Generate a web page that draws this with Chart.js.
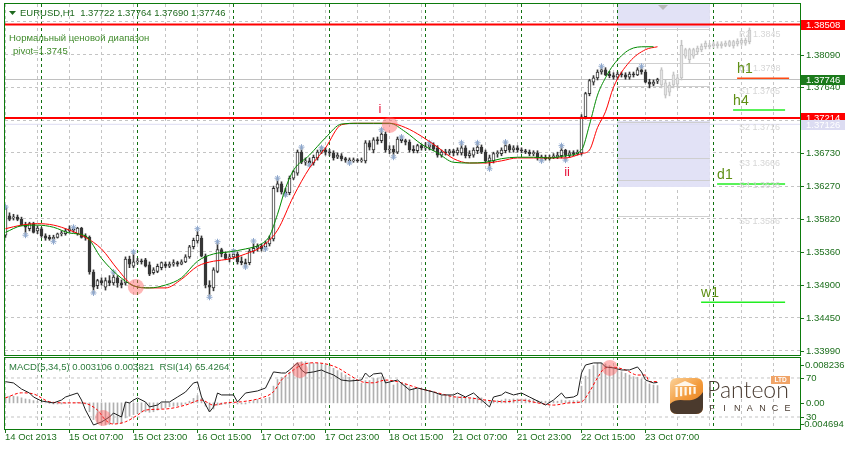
<!DOCTYPE html>
<html>
<head>
<meta charset="utf-8">
<title>EURUSD H1</title>
<script src="https://cdn.jsdelivr.net/npm/chart.js@4.4.0/dist/chart.umd.min.js"></script>
<style>
  body { margin: 0; background: #fff; }
  #wrap { position: relative; width: 845px; height: 449px; overflow: hidden; background: #fff; }
  canvas { position: absolute; left: 0; }
</style>
</head>
<body>
<div id="wrap">
  <canvas id="main" width="845" height="356" style="top:0"></canvas>
  <canvas id="sub" width="845" height="93" style="top:356px"></canvas>
</div>
<script>
// EURUSD H1, 14 Oct 15:00 .. 23 Oct 10:00 (bar index 0..163)
const openP = [
  1.3559,1.3586,1.3583,1.3584,1.3581,1.3573,1.3568,1.3575,1.3565,1.3568,
  1.3558,1.3556,1.3554,1.3556,1.3561,1.3561,1.3565,1.3568,1.3561,1.3569,
  1.3558,1.3556,1.3508,1.3489,1.3496,1.3487,1.3496,1.3493,1.3500,1.3493,
  1.3493,1.3526,1.3516,1.3522,1.3523,1.3525,1.3518,1.3507,1.3509,1.3514,
  1.3519,1.3516,1.3519,1.3521,1.3519,1.3522,1.3529,1.3543,1.3551,1.3555,
  1.3530,1.3490,1.3486,1.3509,1.3539,1.3533,1.3527,1.3529,1.3533,1.3523,
  1.3521,1.3521,1.3537,1.3541,1.3544,1.3543,1.3547,1.3554,1.3624,1.3630,
  1.3619,1.3618,1.3638,1.3645,1.3674,1.3660,1.3662,1.3659,1.3666,1.3674,
  1.3677,1.3674,1.3673,1.3667,1.3669,1.3665,1.3663,1.3662,1.3663,1.3662,
  1.3662,1.3687,1.3677,1.3691,1.3690,1.3699,1.3677,1.3678,1.3674,1.3692,
  1.3690,1.3688,1.3678,1.3676,1.3683,1.3680,1.3681,1.3684,1.3680,1.3670,
  1.3674,1.3673,1.3676,1.3673,1.3673,1.3680,1.3669,1.3670,1.3676,1.3681,
  1.3674,1.3662,1.3662,1.3672,1.3672,1.3676,1.3683,1.3677,1.3680,1.3677,
  1.3676,1.3674,1.3672,1.3673,1.3666,1.3667,1.3665,1.3667,1.3667,1.3669,
  1.3677,1.3670,1.3673,1.3672,1.3673,1.3723,1.3755,1.3771,1.3777,1.3785,
  1.3788,1.3782,1.3780,1.3778,1.3782,1.3781,1.3778,1.3782,1.3781,1.3788,
  1.3785,1.3771,1.3768,1.37722
];
const highP = [
  1.3600,1.3590,1.3588,1.3587,1.3584,1.3577,1.3577,1.3577,1.3572,1.3570,
  1.3561,1.3559,1.3559,1.3562,1.3565,1.3568,1.3572,1.3569,1.3570,1.3570,
  1.3561,1.3558,1.3511,1.3498,1.3500,1.3500,1.3503,1.3507,1.3503,1.3497,
  1.3529,1.3530,1.3534,1.3527,1.3526,1.3527,1.3522,1.3514,1.3519,1.3522,
  1.3522,1.3522,1.3525,1.3523,1.3525,1.3532,1.3545,1.3555,1.3565,1.3558,
  1.3533,1.3496,1.3514,1.3548,1.3541,1.3536,1.3533,1.3539,1.3536,1.3529,
  1.3526,1.3540,1.3548,1.3547,1.3547,1.3551,1.3558,1.3627,1.3637,1.3633,
  1.3624,1.3641,1.3649,1.3677,1.3680,1.3666,1.3666,1.3670,1.3677,1.3681,
  1.3680,1.3678,1.3676,1.3673,1.3672,1.3667,1.3666,1.3666,1.3665,1.3666,
  1.3690,1.3690,1.3694,1.3695,1.3703,1.3702,1.3683,1.3683,1.3695,1.3696,
  1.3692,1.3691,1.3683,1.3685,1.3685,1.3687,1.3688,1.3687,1.3683,1.3677,
  1.3678,1.3678,1.3678,1.3680,1.3685,1.3683,1.3676,1.3680,1.3687,1.3684,
  1.3677,1.3670,1.3674,1.3676,1.3680,1.3688,1.3685,1.3683,1.3683,1.3680,
  1.3678,1.3677,1.3676,1.3676,1.3670,1.3670,1.3670,1.3672,1.3674,1.3683,
  1.3678,1.3676,1.3676,1.3677,1.3726,1.3757,1.3775,1.3780,1.3788,1.3792,
  1.3791,1.3786,1.3784,1.3785,1.3785,1.3784,1.3785,1.3785,1.3791,1.3792,
  1.3788,1.3775,1.3774,1.37764
];
const lowP = [
  1.3556,1.3579,1.3580,1.3579,1.3572,1.3561,1.3565,1.3562,1.3561,1.3556,
  1.3552,1.3552,1.3551,1.3555,1.3558,1.3559,1.3563,1.3563,1.3559,1.3555,
  1.3552,1.3505,1.3479,1.3485,1.3490,1.3483,1.3489,1.3490,1.3487,1.3486,
  1.3490,1.3514,1.3514,1.3519,1.3519,1.3515,1.3503,1.3505,1.3507,1.3511,
  1.3514,1.3514,1.3516,1.3516,1.3518,1.3521,1.3527,1.3540,1.3548,1.3529,
  1.3486,1.3475,1.3482,1.3507,1.3529,1.3525,1.3522,1.3526,1.3519,1.3518,
  1.3515,1.3518,1.3534,1.3537,1.3537,1.3539,1.3544,1.3551,1.3619,1.3616,
  1.3613,1.3615,1.3636,1.3642,1.3658,1.3656,1.3655,1.3656,1.3663,1.3672,
  1.3670,1.3669,1.3663,1.3665,1.3662,1.3660,1.3659,1.3660,1.3660,1.3660,
  1.3659,1.3677,1.3673,1.3685,1.3687,1.3674,1.3672,1.3669,1.3672,1.3687,
  1.3684,1.3674,1.3673,1.3673,1.3677,1.3677,1.3677,1.3676,1.3667,1.3667,
  1.3670,1.3670,1.3669,1.3670,1.3670,1.3666,1.3666,1.3667,1.3672,1.3672,
  1.3659,1.3652,1.3659,1.3667,1.3669,1.3673,1.3674,1.3674,1.3674,1.3673,
  1.3672,1.3669,1.3669,1.3663,1.3662,1.3663,1.3663,1.3665,1.3665,1.3666,
  1.3663,1.3667,1.3669,1.3670,1.3670,1.3720,1.3752,1.3767,1.3774,1.3782,
  1.3780,1.3777,1.3775,1.3775,1.3778,1.3775,1.3775,1.3778,1.3780,1.3782,
  1.3770,1.3763,1.3766,1.37690
];
const closeP = [
  1.3597,1.3581,1.3584,1.3581,1.3573,1.3570,1.3575,1.3563,1.3569,1.3558,
  1.3555,1.3554,1.3556,1.3561,1.3562,1.3565,1.3568,1.3566,1.3569,1.3556,
  1.3556,1.3508,1.3487,1.3496,1.3493,1.3496,1.3493,1.3501,1.3493,1.3490,
  1.3526,1.3519,1.3522,1.3523,1.3522,1.3516,1.3505,1.3511,1.3516,1.3521,
  1.3516,1.3519,1.3521,1.3519,1.3522,1.3529,1.3543,1.3552,1.3559,1.3530,
  1.3490,1.3487,1.3511,1.3539,1.3533,1.3527,1.3529,1.3533,1.3522,1.3521,
  1.3519,1.3537,1.3541,1.3544,1.3540,1.3548,1.3554,1.3624,1.3630,1.3619,
  1.3616,1.3638,1.3647,1.3674,1.3660,1.3662,1.3659,1.3667,1.3674,1.3677,
  1.3674,1.3673,1.3666,1.3670,1.3665,1.3663,1.3662,1.3663,1.3662,1.3663,
  1.3687,1.3681,1.3691,1.3690,1.3699,1.3677,1.3678,1.3674,1.3692,1.3690,
  1.3688,1.3677,1.3676,1.3683,1.3680,1.3681,1.3684,1.3678,1.3670,1.3674,
  1.3673,1.3676,1.3673,1.3677,1.3680,1.3669,1.3672,1.3677,1.3681,1.3674,
  1.3662,1.3666,1.3672,1.3673,1.3677,1.3683,1.3677,1.3680,1.3677,1.3676,
  1.3674,1.3672,1.3673,1.3666,1.3667,1.3665,1.3667,1.3669,1.3670,1.3677,
  1.3670,1.3673,1.3672,1.3674,1.3723,1.3755,1.3773,1.3777,1.3785,1.3788,
  1.3781,1.3780,1.3778,1.3782,1.3781,1.3778,1.3782,1.3781,1.3788,1.3785,
  1.3771,1.3768,1.3771,1.37746
];

// faded projection candles to the right of the last bar (bars 164..186)
const projTop    = [1.3788,1.3770,1.3767,1.3781,1.3777,1.3822,1.3816,1.3816,1.3816,1.3818,1.3821,1.3825,1.3822,1.3824,1.3824,1.3824,1.3825,1.3827,1.3827,1.3828,1.3829,1.3829,1.3843];
const projBottom = [1.3767,1.3753,1.3757,1.3767,1.3768,1.3777,1.3807,1.3802,1.3807,1.3813,1.3816,1.3820,1.3820,1.3821,1.3821,1.3821,1.3822,1.3822,1.3821,1.3824,1.3825,1.3825,1.3827];
const projHigh   = [1.3791,1.3774,1.3771,1.3785,1.3782,1.3829,1.3818,1.3818,1.3818,1.3821,1.3824,1.3828,1.3825,1.3827,1.3827,1.3827,1.3828,1.3829,1.3829,1.3831,1.3832,1.3832,1.3846];
const projLow    = [1.3763,1.3749,1.3752,1.3763,1.3763,1.3774,1.3804,1.3798,1.3804,1.3809,1.3813,1.3817,1.3817,1.3818,1.3818,1.3818,1.3820,1.3820,1.3818,1.3821,1.3822,1.3822,1.3824];

// two moving averages (green fast, red slow)
const greenBars = [0,4,8,12,16,20,24,28,32,36,40,44,48,52,56,60,64,66,68,70,72,76,80,84,88,92,96,100,104,108,112,116,120,124,128,132,136,140,144,146,148,150,152,156,160,162];
const greenMA = [1.3563,1.3572,1.3573,1.3570,1.3562,1.3558,1.3527,1.3504,1.3489,1.3486,1.3490,1.3500,1.3523,1.3533,1.3536,1.3540,1.3547,1.3558,1.3588,1.3624,1.3649,1.3670,1.3694,1.3713,1.3714,1.3714,1.3714,1.3702,1.3685,1.3673,1.3660,1.3659,1.3660,1.3665,1.3667,1.3667,1.3666,1.3669,1.3677,1.3712,1.3753,1.3777,1.3795,1.3816,1.3820,1.3820];
const redBars = [0,4,8,12,16,20,24,28,32,36,40,44,48,52,56,60,64,68,72,76,80,84,88,92,96,100,104,108,112,116,120,124,128,132,136,140,144,146,148,150,152,156,160,163];
const redMA = [1.3568,1.3573,1.3575,1.3573,1.3566,1.3556,1.3540,1.3512,1.3489,1.3486,1.3486,1.3498,1.3516,1.3523,1.3526,1.3533,1.3543,1.3566,1.3613,1.3652,1.3680,1.3712,1.3714,1.3714,1.3714,1.3708,1.3696,1.3681,1.3665,1.3659,1.3659,1.3662,1.3666,1.3666,1.3666,1.3666,1.3672,1.3677,1.3708,1.3730,1.3764,1.3799,1.3816,1.3820];

// fractal marks
const fractalBars = [0,5,12,17,22,27,32,48,51,53,57,60,62,65,68,70,74,76,79,86,94,97,99,106,114,118,121,125,134,139,140,149,159];
const fractalPrices = [1.3598,1.3559,1.3550,1.3570,1.3479,1.3508,1.3536,1.3568,1.3473,1.3550,1.3537,1.3515,1.3551,1.3540,1.3638,1.3615,1.3681,1.3656,1.3680,1.3659,1.3705,1.3667,1.3695,1.3687,1.3687,1.3687,1.3651,1.3688,1.3662,1.3683,1.3663,1.3793,1.3793];

// MACD(5,34,5) histogram, its signal and RSI(14)
const macdHist = [
  0.0011,0.0012,0.0012,0.0011,0.0009,0.0007,0.0006,0.0004,0.0003,0.0001,
  0.0000,-0.0001,-0.0002,-0.0002,-0.0002,-0.0001,0.0000,0.0000,0.0001,-0.0001,
  -0.0002,-0.0016,-0.0030,-0.0036,-0.0038,-0.0039,-0.0039,-0.0037,-0.0037,-0.0037,
  -0.0027,-0.0024,-0.0021,-0.0019,-0.0017,-0.0016,-0.0017,-0.0016,-0.0013,-0.0010,
  -0.0009,-0.0007,-0.0006,-0.0005,-0.0004,-0.0002,0.0003,0.0008,0.0013,0.0008,
  -0.0006,-0.0014,-0.0011,-0.0004,-0.0003,-0.0002,-0.0002,-0.0001,-0.0002,-0.0002,
  -0.0002,0.0002,0.0004,0.0006,0.0006,0.0008,0.0010,0.0030,0.0042,0.0046,
  0.0048,0.0055,0.0061,0.0072,0.0074,0.0074,0.0072,0.0071,0.0071,0.0070,
  0.0068,0.0066,0.0062,0.0058,0.0054,0.0050,0.0046,0.0042,0.0038,0.0035,
  0.0040,0.0040,0.0044,0.0044,0.0047,0.0040,0.0036,0.0032,0.0035,0.0035,
  0.0034,0.0029,0.0026,0.0025,0.0024,0.0022,0.0021,0.0019,0.0015,0.0013,
  0.0012,0.0012,0.0011,0.0011,0.0012,0.0009,0.0008,0.0009,0.0011,0.0009,
  0.0004,0.0003,0.0004,0.0004,0.0005,0.0007,0.0006,0.0007,0.0007,0.0007,
  0.0007,0.0006,0.0006,0.0004,0.0003,0.0003,0.0003,0.0003,0.0003,0.0005,
  0.0004,0.0004,0.0004,0.0004,0.0030,0.0048,0.0060,0.0067,0.0071,0.0072,
  0.0070,0.0067,0.0064,0.0060,0.0056,0.0053,0.0050,0.0047,0.0046,0.0043,
  0.0038,0.0034,0.0032,0.003106
];
const signalBars = [0,4,7,11,15,19,23,25,27,30,33,35,40,45,49,52,55,59,64,67,69,72,74,77,80,83,86,89,92,95,99,103,108,112,116,120,125,129,133,137,141,144,146,148,150,152,155,158,160,161,163];
const signalVals = [0.0009,0.0018,0.0016,0.0002,0.0000,0.0000,-0.0013,-0.0031,-0.0038,-0.0034,-0.0022,-0.0013,-0.0011,-0.0004,0.0005,-0.0004,0.0000,0.0002,0.0009,0.0020,0.0041,0.0059,0.0068,0.0072,0.0070,0.0063,0.0050,0.0038,0.0036,0.0041,0.0036,0.0027,0.0018,0.0011,0.0009,0.0005,0.0002,0.0005,0.0000,-0.0004,0.0000,0.0002,0.0020,0.0045,0.0063,0.0064,0.0059,0.0050,0.0050,0.0038,0.003821];
const rsiBars = [0,2,4,6,7,9,12,14,15,18,19,20,22,24,26,27,29,30,31,32,33,35,36,38,39,41,43,45,47,48,49,51,52,53,54,57,58,60,63,65,67,69,70,71,73,74,75,77,79,80,82,84,86,89,90,91,92,94,95,96,98,101,103,105,107,109,112,113,115,117,119,121,122,124,125,127,129,131,134,135,137,139,140,142,143,144,145,147,149,150,152,154,156,158,159,160,162,163];
const rsiVals = [66.2,64.9,58.7,54.6,50.5,46.4,44.4,47.4,50.5,54.6,47.4,37.2,21.8,24.9,30.0,34.1,30.0,45.4,44.4,47.4,49.5,45.4,40.3,42.3,45.4,45.4,50.5,55.6,64.9,65.9,50.5,35.1,40.3,54.6,52.6,52.6,45.4,54.6,56.7,59.7,76.2,75.1,75.1,78.2,85.4,78.2,75.1,76.2,78.2,76.2,73.1,67.9,66.9,67.9,75.1,71.0,74.1,75.1,64.9,65.9,67.9,57.7,59.7,57.7,55.6,52.6,52.6,54.6,50.5,54.6,47.4,40.3,50.5,52.6,55.6,52.6,54.6,50.5,44.4,42.3,47.4,54.6,49.5,50.5,52.6,75.1,83.3,85.4,85.4,81.3,80.3,78.2,78.2,81.3,76.2,67.9,64.9,65.4264];

// levels and labels
const priceTicks = [1.33990,1.34450,1.34900,1.35360,1.35820,1.36270,1.36730,1.37180,1.37640,1.38090,1.38550];
const hiddenTicks = [1.37180, 1.38550];
const redLevels = [1.38508, 1.37214];
const bidPrice = 1.37746;
const dayRangePrice = 1.37126;
const tfNames = ['h1','h4','d1','w1'];
const tfLevels = [1.37763, 1.37324, 1.36299, 1.34660];
const tfFrom = [182.9, 181.9, 177.9, 173.9];
const tfTo = [195.9, 194.9, 194.9, 194.9];
const pivotNames = ['R2 1.3845','R1 1.3798','S1 1.3765','S2 1.3716','S3 1.3666','S4 1.3636','S5 1.3586'];
const pivotLevels = [1.3845, 1.3798, 1.3765, 1.3716, 1.3666, 1.3636, 1.3586];
const rangeBoxes = [[1.38792, 1.38460], [1.37172, 1.36258]];
const xLabels = ['14 Oct 2013','15 Oct 07:00','15 Oct 23:00','16 Oct 15:00','17 Oct 07:00','17 Oct 23:00','18 Oct 15:00','21 Oct 07:00','21 Oct 23:00','22 Oct 15:00','23 Oct 07:00'];
const xLabelBars = [0,16,32,48,64,80,96,112,128,144,160];
const dayStartBars = [9,33,57,81,105,129,153,177];
const markBars = [32.6, 96.1];
const markPrices = [1.34873, 1.37117];
const subMarkBars = [24.4, 73.6, 151.1];
const subMarkRsi = [29.0, 78.2, 80.3];

// ---- chart setup ----
const X_MIN = -0.125, X_MAX = 198.625;
const P_MIN = 1.33931, P_MAX = 1.38792;
const M_MIN = -0.004694, M_MAX = 0.008236;
const R_MIN = 17.7, R_MAX = 91.5;
const FONT = '"Liberation Sans", Arial, sans-serif';
const AXIS_GREEN = '#1d6f1d';
const CANDLE = '#363636';
const gridBars = [];
for (let b = 0; b <= 192; b += 8) gridBars.push(b);

const bars = closeP.map((_, i) => i);
const projBars = projTop.map((_, k) => closeP.length + k);
const hline = v => [{x: X_MIN, y: v}, {x: X_MAX, y: v}];
const pts = (xs, ys) => xs.map((x, k) => ({x: x, y: ys[k]}));

function xScale() {
  return {
    type: 'linear', min: X_MIN, max: X_MAX, offset: false,
    afterBuildTicks: s => { s.ticks = gridBars.map(v => ({value: v})); },
    afterFit: s => { s.height = 0; },
    ticks: {display: false},
    grid: {color: '#c4c4c4', drawTicks: false, offset: false},
    border: {display: false, dash: [3, 3]}
  };
}

function dayLines(chart) {
  const {ctx, chartArea: a, scales: {x}} = chart;
  ctx.save();
  ctx.strokeStyle = '#107010';
  ctx.lineWidth = 1;
  ctx.setLineDash([3, 3]);
  dayStartBars.forEach(b => {
    const px = Math.round(x.getPixelForValue(b) - 0.5) + 0.5;
    ctx.beginPath(); ctx.moveTo(px, a.top); ctx.lineTo(px, a.bottom); ctx.stroke();
  });
  ctx.restore();
}

function frame(chart, topShift) {
  const {ctx, chartArea: a} = chart;
  ctx.save();
  ctx.strokeStyle = '#0c7a0c';
  ctx.lineWidth = 1;
  const t = a.top - 0.5 + topShift;
  ctx.strokeRect(a.left - 0.5, t, a.right - a.left + 1, a.bottom + 0.5 - t);
  ctx.restore();
}

function text(ctx, s, x, y, color, font, align, base) {
  ctx.font = font;
  ctx.fillStyle = color;
  ctx.textAlign = align || 'left';
  ctx.textBaseline = base || 'middle';
  ctx.fillText(s, x, y);
}

function labelBox(ctx, py, s, bg, fg) {
  ctx.fillStyle = bg;
  ctx.fillRect(801, Math.round(py) - 5, 44, 10);
  text(ctx, s, 806, Math.round(py) + 0.5, fg, '9.5px ' + FONT);
}

const mainDecor = {
  id: 'mainDecor',
  beforeDatasetsDraw(chart) {
    const {ctx, chartArea: a, scales: {x, y}} = chart;
    ctx.save();
    ctx.beginPath(); ctx.rect(a.left, a.top, a.right - a.left, a.bottom - a.top); ctx.clip();
    const bx0 = x.getPixelForValue(152.9), bx1 = x.getPixelForValue(176.1);
    ctx.fillStyle = '#e2e2f6';
    rangeBoxes.forEach(([hi, lo]) => {
      const y0 = y.getPixelForValue(hi), y1 = y.getPixelForValue(lo);
      ctx.fillRect(bx0, y0, bx1 - bx0, y1 - y0);
    });
    ctx.strokeStyle = '#cfcfcf';
    ctx.lineWidth = 1;
    pivotLevels.forEach(v => {
      const py = Math.round(y.getPixelForValue(v)) + 0.5;
      ctx.beginPath(); ctx.moveTo(bx0, py); ctx.lineTo(bx1, py); ctx.stroke();
    });
    ctx.restore();
    dayLines(chart);
  },
  afterDatasetsDraw(chart) {
    const {ctx, scales: {x, y}} = chart;
    ctx.save();
    // faint pivot captions
    pivotNames.forEach((s, k) => {
      text(ctx, s, 739, y.getPixelForValue(pivotLevels[k]) + 1, '#d6d6d6', '9px ' + FONT, 'left', 'top');
    });
    // wave marks
    text(ctx, 'i', x.getPixelForValue(93.6), y.getPixelForValue(1.37331), '#e8143c', '13px ' + FONT, 'center');
    text(ctx, 'ii', x.getPixelForValue(140.4), y.getPixelForValue(1.36465), '#e8143c', '13px ' + FONT, 'center');
    // timeframe level captions
    tfNames.forEach((s, k) => {
      text(ctx, s, x.getPixelForValue(tfFrom[k]), y.getPixelForValue(tfLevels[k]) - 2, '#5f8f14', '14px ' + FONT, 'left', 'bottom');
    });
    // header texts
    ctx.fillStyle = '#1f6a1f';
    ctx.beginPath(); ctx.moveTo(9, 11); ctx.lineTo(16, 11); ctx.lineTo(12.5, 15); ctx.closePath(); ctx.fill();
    text(ctx, 'EURUSD,H1  1.37722 1.37764 1.37690 1.37746', 20, 13.5, '#1f6a1f', '9.5px ' + FONT);
    text(ctx, 'Нормальный ценовой диапазон', 9, 38.5, '#3f8a2a', '9.5px ' + FONT);
    text(ctx, 'pivot=1.3745', 13, 51.5, '#3f8a2a', '9.5px ' + FONT);
    ctx.fillStyle = '#b8b8b8';
    ctx.beginPath(); ctx.moveTo(658, 5); ctx.lineTo(668, 5); ctx.lineTo(663, 10); ctx.closePath(); ctx.fill();
    ctx.restore();
  },
  afterDraw(chart) {
    const {ctx, scales: {y}} = chart;
    frame(chart, 0);
    ctx.save();
    priceTicks.forEach(v => {
      if (hiddenTicks.includes(v)) return;
      const py = y.getPixelForValue(v);
      ctx.fillStyle = AXIS_GREEN;
      ctx.fillRect(801, Math.round(py), 3, 1);
      text(ctx, v.toFixed(5), 806, Math.round(py) + 0.5, AXIS_GREEN, '9.5px ' + FONT);
    });
    labelBox(ctx, y.getPixelForValue(redLevels[0]), redLevels[0].toFixed(5), '#ff0000', '#ffffff');
    labelBox(ctx, y.getPixelForValue(bidPrice), bidPrice.toFixed(5), '#1b7a1b', '#ffffff');
    labelBox(ctx, y.getPixelForValue(redLevels[1]), redLevels[1].toFixed(5), '#ff0000', '#ffffff');
    labelBox(ctx, y.getPixelForValue(dayRangePrice) + 1, dayRangePrice.toFixed(5), '#dcdcf2', '#ffffff');
    ctx.restore();
  }
};

new Chart(document.getElementById('main'), {
  type: 'line',
  data: {
    datasets: [
      {type: 'line', data: pts(markBars, markPrices), showLine: false, pointRadius: 8,
       pointBackgroundColor: 'rgba(255,95,95,0.45)', pointBorderWidth: 0, order: 0},
      {type: 'line', data: hline(redLevels[0]), borderColor: '#ff0000', borderWidth: 2, pointRadius: 0, order: 1},
      {type: 'line', data: hline(redLevels[1]), borderColor: '#ff0000', borderWidth: 2, pointRadius: 0, order: 1},
      ...tfNames.map((n, k) => ({type: 'line', data: [{x: tfFrom[k], y: tfLevels[k]}, {x: tfTo[k], y: tfLevels[k]}],
        borderColor: k === 0 ? '#ff4a12' : '#22ee22', borderWidth: 1.5, pointRadius: 0, order: 1})),
      {type: 'line', data: pts(greenBars, greenMA), borderColor: '#008a00', borderWidth: 1, pointRadius: 0,
       cubicInterpolationMode: 'monotone', order: 2},
      {type: 'line', data: pts(redBars, redMA), borderColor: '#ff0000', borderWidth: 1, pointRadius: 0,
       cubicInterpolationMode: 'monotone', order: 2},
      {type: 'line', data: pts(fractalBars, fractalPrices), showLine: false, pointStyle: 'star', pointRadius: 3,
       pointBorderColor: '#8ea7cc', pointBorderWidth: 1, order: 2},
      {type: 'bar', data: bars.map(i => ({x: i, y: [openP[i], closeP[i]]})), grouped: false, barThickness: 3,
       minBarLength: 1, backgroundColor: bars.map(i => closeP[i] >= openP[i] ? '#ffffff' : CANDLE),
       borderColor: CANDLE, borderWidth: 1, borderSkipped: false, order: 3},
      {type: 'bar', data: bars.map(i => ({x: i, y: [lowP[i], highP[i]]})), grouped: false, barThickness: 1,
       backgroundColor: CANDLE, order: 4},
      {type: 'bar', data: projBars.map((b, k) => ({x: b, y: [projBottom[k], projTop[k]]})), grouped: false, barThickness: 3,
       minBarLength: 1, backgroundColor: '#e4e4e4', borderColor: '#c4c4c4', borderWidth: 1, borderSkipped: false, order: 5},
      {type: 'bar', data: projBars.map((b, k) => ({x: b, y: [projLow[k], projHigh[k]]})), grouped: false, barThickness: 1,
       backgroundColor: '#c4c4c4', order: 6},
      {type: 'line', data: hline(bidPrice), borderColor: '#c0c0c0', borderWidth: 1, pointRadius: 0, order: 7},
      {type: 'line', data: hline(dayRangePrice), borderColor: '#dcdcf2', borderWidth: 1, pointRadius: 0, order: 8}
    ]
  },
  options: {
    responsive: false, animation: false, events: [],
    layout: {autoPadding: false, padding: {left: 5, top: 4, right: 0, bottom: 1}},
    plugins: {legend: {display: false}, tooltip: {enabled: false}},
    scales: {
      x: xScale(),
      y: {
        position: 'right', min: P_MIN, max: P_MAX, beginAtZero: false,
        afterBuildTicks: s => { s.ticks = priceTicks.map(v => ({value: v})); },
        afterFit: s => { s.width = 45; },
        ticks: {display: false},
        grid: {color: '#c4c4c4', drawTicks: false},
        border: {display: false, dash: [3, 3]}
      }
    }
  },
  plugins: [mainDecor]
});

// ---- indicator pane ----
function drawLogo(ctx, x0, y0) {
  ctx.save();
  const w = 33, h = 36, r = 7;
  ctx.beginPath();
  ctx.moveTo(x0 + r, y0); ctx.lineTo(x0 + w - r, y0); ctx.quadraticCurveTo(x0 + w, y0, x0 + w, y0 + r);
  ctx.lineTo(x0 + w, y0 + h - r); ctx.quadraticCurveTo(x0 + w, y0 + h, x0 + w - r, y0 + h);
  ctx.lineTo(x0 + r, y0 + h); ctx.quadraticCurveTo(x0, y0 + h, x0, y0 + h - r);
  ctx.lineTo(x0, y0 + r); ctx.quadraticCurveTo(x0, y0, x0 + r, y0);
  ctx.clip();
  const g = ctx.createLinearGradient(x0, y0, x0 + w, y0 + h);
  g.addColorStop(0, '#fbd29a'); g.addColorStop(0.5, '#f39a3a'); g.addColorStop(1, '#e07a20');
  ctx.fillStyle = g; ctx.fillRect(x0, y0, w, h);
  ctx.fillStyle = '#4b3a2d';
  ctx.beginPath();
  ctx.moveTo(x0, y0 + 26); ctx.bezierCurveTo(x0 + 10, y0 + 16, x0 + 22, y0 + 30, x0 + w, y0 + 14);
  ctx.lineTo(x0 + w, y0 + h); ctx.lineTo(x0, y0 + h); ctx.closePath(); ctx.fill();
  ctx.fillStyle = '#fff6e8';
  ctx.beginPath(); ctx.moveTo(x0 + 4, y0 + 8); ctx.lineTo(x0 + 15, y0 + 3); ctx.lineTo(x0 + 27, y0 + 8); ctx.closePath(); ctx.fill();
  for (let k = 0; k < 5; k++) ctx.fillRect(x0 + 5.5 + k * 4.5, y0 + 9, 2.2, 10 - k * 0.8);
  ctx.restore();
  text(ctx, 'Panteon', x0 + 37, y0 + 20, '#4a3c32', '300 23px Lato, ' + FONT, 'left', 'alphabetic');
  ctx.fillStyle = '#f0a468';
  ctx.fillRect(x0 + 101, y0 - 2, 19, 8);
  text(ctx, 'LTD', x0 + 110.5, y0 + 2.5, '#ffffff', 'bold 6.5px ' + FONT, 'center');
  'FINANCE'.split('').forEach((c, k) => text(ctx, c, x0 + 42 + k * 12.6, y0 + 31, '#4a3c32', '9px ' + FONT, 'center'));
}

const subDecor = {
  id: 'subDecor',
  beforeDatasetsDraw(chart) { dayLines(chart); },
  afterDatasetsDraw(chart) {
    const {ctx} = chart;
    ctx.save();
    text(ctx, 'MACD(5,34,5) 0.003106 0.003821  RSI(14) 65.4264', 9, 11.5, '#2b7b3b', '9.5px ' + FONT);
    drawLogo(ctx, 670, 22);
    ctx.restore();
  },
  afterDraw(chart) {
    const {ctx, scales: {x, yM, yR}} = chart;
    frame(chart, 1);
    ctx.save();
    const marks = [[9, '0.008236', 805], [yR.getPixelForValue(70), '70', 806], [yM.getPixelForValue(0), '0.00', 806],
                   [yR.getPixelForValue(30), '30', 806], [68, '-0.004694', 801]];
    marks.forEach(([py, s, lx]) => {
      ctx.fillStyle = AXIS_GREEN;
      ctx.fillRect(801, Math.round(py), 3, 1);
      text(ctx, s, lx, Math.round(py) + 0.5, AXIS_GREEN, '9.5px ' + FONT);
    });
    xLabels.forEach((s, k) => {
      const px = Math.round(x.getPixelForValue(xLabelBars[k]) - 0.5);
      ctx.fillStyle = AXIS_GREEN;
      ctx.fillRect(px, 74, 1, 3);
      text(ctx, s, px, 81.5, AXIS_GREEN, '9.5px ' + FONT);
    });
    ctx.restore();
  }
};

new Chart(document.getElementById('sub'), {
  type: 'line',
  data: {
    datasets: [
      {type: 'line', data: pts(subMarkBars, subMarkRsi), yAxisID: 'yR', showLine: false, pointRadius: 8,
       pointBackgroundColor: 'rgba(255,95,95,0.45)', pointBorderWidth: 0, order: 0},
      {type: 'line', data: pts(rsiBars, rsiVals), yAxisID: 'yR', borderColor: '#1e1e1e', borderWidth: 1,
       pointRadius: 0, order: 1},
      {type: 'line', data: pts(signalBars, signalVals), yAxisID: 'yM', borderColor: '#ff0000', borderWidth: 1,
       borderDash: [3, 2], pointRadius: 0, cubicInterpolationMode: 'monotone', order: 2},
      {type: 'bar', data: bars.map(i => ({x: i, y: macdHist[i]})), yAxisID: 'yM', grouped: false, barThickness: 1,
       backgroundColor: '#b0b0b0', order: 3},
      {type: 'line', data: hline(70), yAxisID: 'yR', borderColor: '#c4c4c4', borderWidth: 1, borderDash: [3, 3],
       pointRadius: 0, order: 4},
      {type: 'line', data: hline(30), yAxisID: 'yR', borderColor: '#c4c4c4', borderWidth: 1, borderDash: [3, 3],
       pointRadius: 0, order: 4}
    ]
  },
  options: {
    responsive: false, animation: false, events: [],
    layout: {autoPadding: false, padding: {left: 5, top: 1, right: 0, bottom: 20}},
    plugins: {legend: {display: false}, tooltip: {enabled: false}},
    scales: {
      x: xScale(),
      yM: {
        position: 'right', min: M_MIN, max: M_MAX, beginAtZero: false,
        afterFit: s => { s.width = 45; },
        ticks: {display: false}, grid: {display: false}, border: {display: false}
      },
      yR: {display: false, min: R_MIN, max: R_MAX}
    }
  },
  plugins: [subDecor]
});
</script>
</body>
</html>
